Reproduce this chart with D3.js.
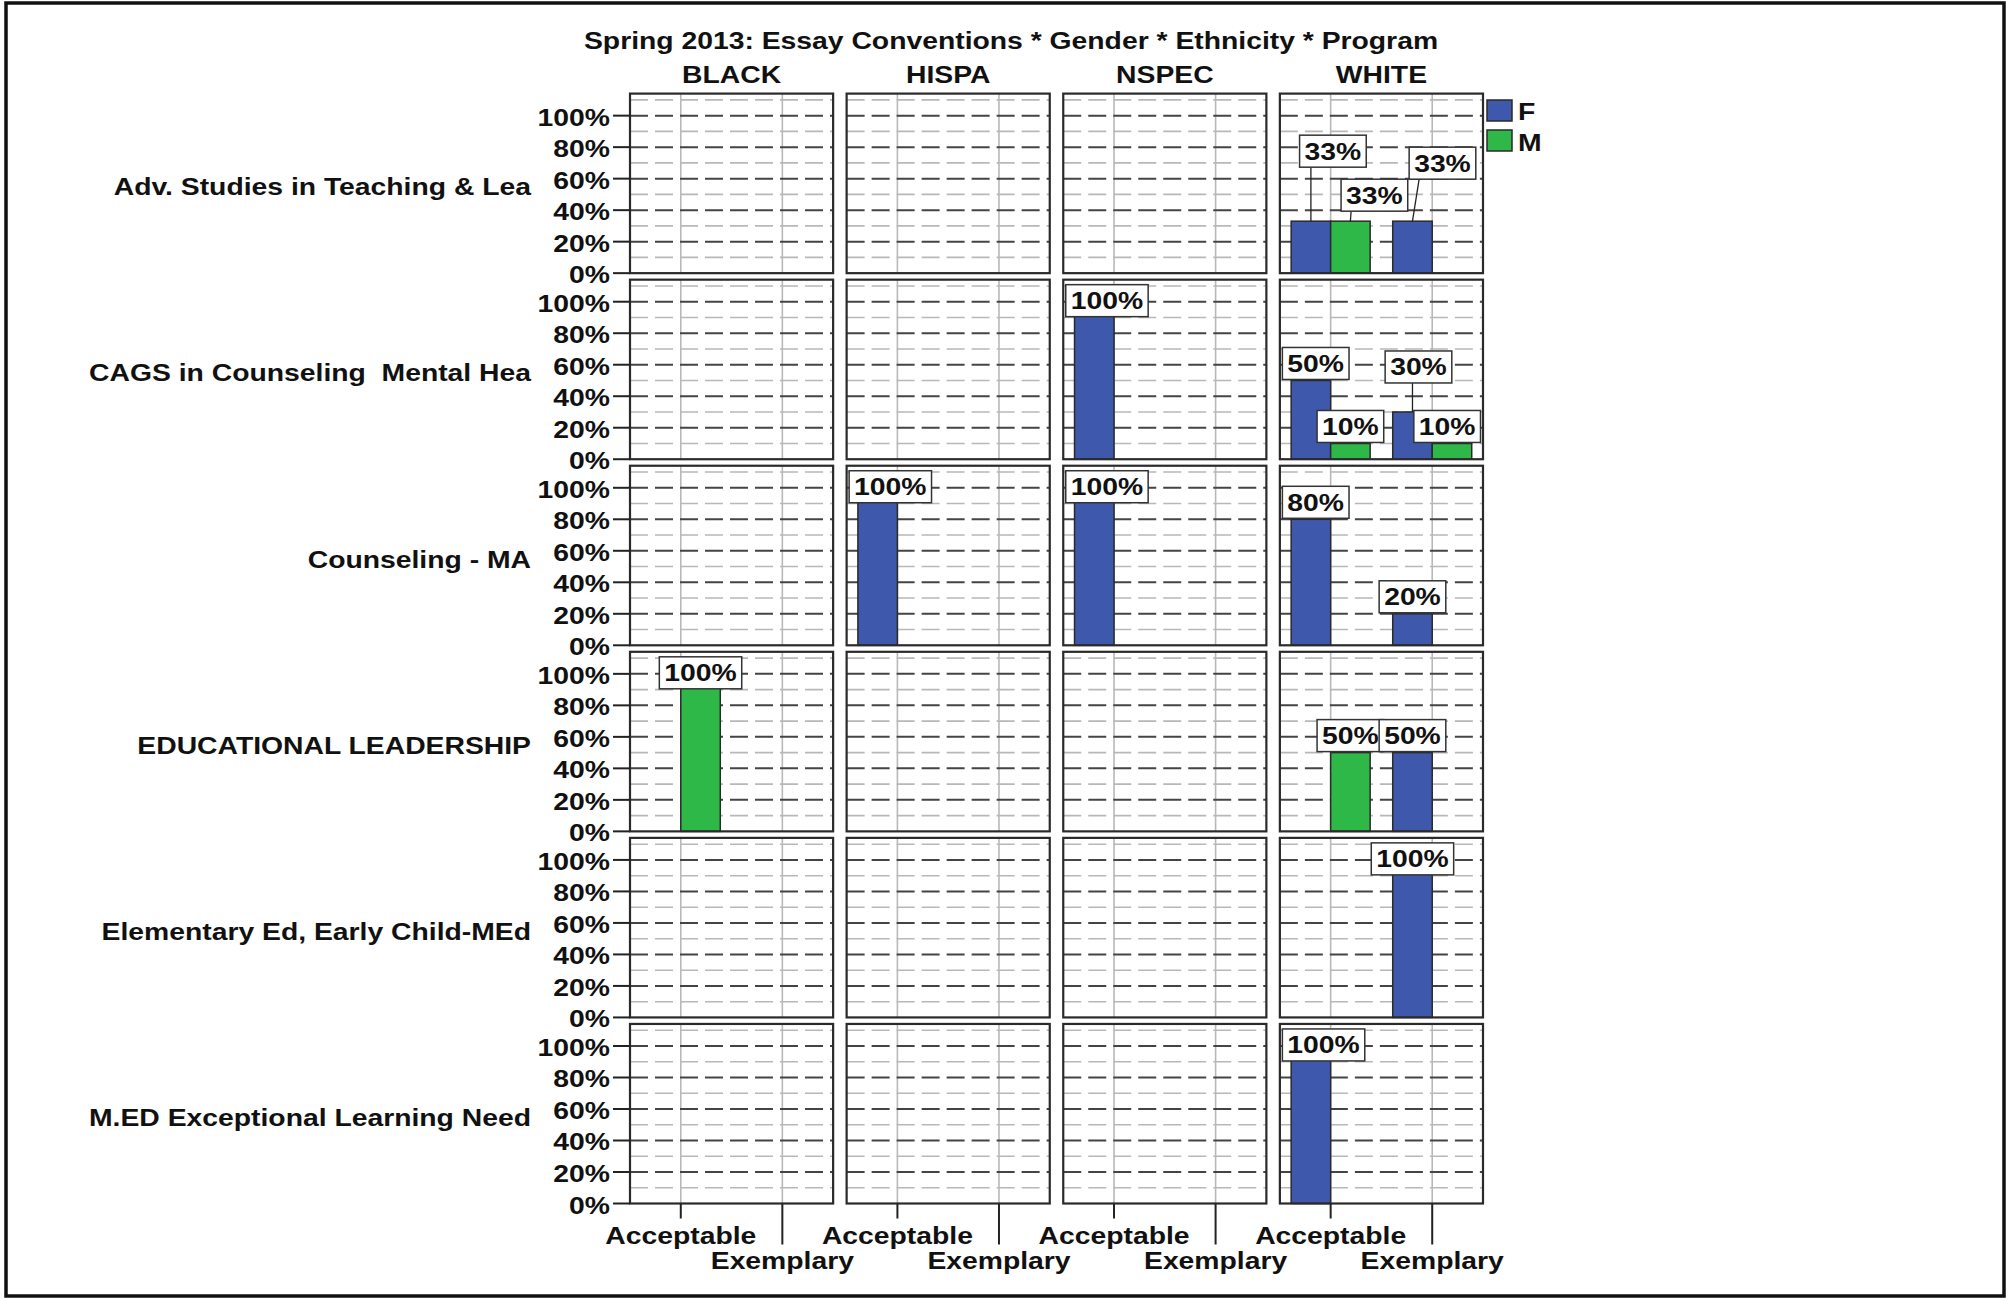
<!DOCTYPE html>
<html>
<head>
<meta charset="utf-8">
<script src="https://cdn.jsdelivr.net/npm/d3@7"></script>
<style>
  html, body { margin: 0; padding: 0; background: #fff; }
  svg { display: block; }
  text { font-family: "Liberation Sans", Arial, sans-serif; font-weight: bold; font-size: 24px; fill: #111; white-space: pre; }
</style>
</head>
<body>
<script>
// ---------------- DATA ----------------
const title = "Spring 2013: Essay Conventions * Gender * Ethnicity * Program";
const programs = [
  "Adv. Studies in Teaching & Lea",
  "CAGS in Counseling  Mental Hea",
  "Counseling - MA",
  "EDUCATIONAL LEADERSHIP",
  "Elementary Ed, Early Child-MEd",
  "M.ED Exceptional Learning Need"
];
const ethnicities = ["BLACK", "HISPA", "NSPEC", "WHITE"];
const ratings = ["Acceptable", "Exemplary"];
const genders = ["F", "M"];
const yTicks = [0, 20, 40, 60, 80, 100];
const yTickLabels = ["0%", "20%", "40%", "60%", "80%", "100%"];

// percent values [program][ethnicity][rating]; null = no bar
const pctF = [
  [[null, null], [null, null], [null, null], [33, 33]],
  [[null, null], [null, null], [100, null], [50, 30]],
  [[null, null], [100, null], [100, null], [80, 20]],
  [[null, null], [null, null], [null, null], [null, 50]],
  [[null, null], [null, null], [null, null], [null, 100]],
  [[null, null], [null, null], [null, null], [100, null]]
];
const pctM = [
  [[null, null], [null, null], [null, null], [33, null]],
  [[null, null], [null, null], [null, null], [10, 10]],
  [[null, null], [null, null], [null, null], [null, null]],
  [[100, null], [null, null], [null, null], [50, null]],
  [[null, null], [null, null], [null, null], [null, null]],
  [[null, null], [null, null], [null, null], [null, null]]
];
const genderColors = ["#3E58AC", "#2EB848"];

// ---------------- LAYOUT ----------------
const W = 2011, H = 1298;
const SX = 1.18; // horizontal text stretch seen in the reference
const svg = d3.select("body").append("svg").attr("width", W).attr("height", H);

const colScale = d3.scaleBand().domain(ethnicities).range([630, 1483]).paddingInner(0.0623);
const rowScale = d3.scaleBand().domain(programs).range([93.6, 1203.5]).paddingInner(0.035);
const pw = colScale.bandwidth(), ph = rowScale.bandwidth();
const xr = d3.scaleBand().domain(ratings).range([0, pw]);
const xg = d3.scaleBand().domain(genders).range([-39.5, 39.5]);
const y = d3.scaleLinear().domain([0, 114]).range([ph, 0]);
const color = d3.scaleOrdinal().domain(genders).range(genderColors);

// label displacement (collision avoidance as in the reference), relative to default spot
const labelShift = {
  "0|WHITE|Acceptable|F": [22, -53],
  "0|WHITE|Acceptable|M": [24, -9],
  "0|WHITE|Exemplary|F": [30, -41],
  "1|WHITE|Exemplary|F": [6, -28]
};

function txt(g, x, yy, s, anchor) {
  return g.append("text")
    .attr("transform", `translate(${x},${yy}) scale(${SX},1)`)
    .attr("text-anchor", anchor || "start")
    .text(s);
}

// outer frame
svg.append("rect").attr("x", 6).attr("y", 3).attr("width", 1998).attr("height", 1293)
  .attr("fill", "none").attr("stroke", "#111").attr("stroke-width", 3.5);

// title and column headers
txt(svg, 1011, 49, title, "middle");
ethnicities.forEach(e => txt(svg, colScale(e) + pw / 2, 83, e, "middle"));

// row labels
programs.forEach(p => txt(svg, 531, rowScale(p) + ph / 2 + 12, p, "end"));

// records
const records = [];
programs.forEach((p, pi) => ethnicities.forEach((e, ei) => ratings.forEach((r, ri) => {
  [pctF, pctM].forEach((arr, gi) => {
    const v = arr[pi][ei][ri];
    if (v !== null) records.push({ pi, p, e, r, g: genders[gi], v });
  });
})));

// panels
programs.forEach((p, pi) => {
  ethnicities.forEach((e, ei) => {
    const g = svg.append("g").attr("transform", `translate(${colScale(e)},${rowScale(p)})`);
    // minor grid
    d3.range(10, 114, 20).forEach(t => {
      g.append("line").attr("x1", 0).attr("x2", pw).attr("y1", y(t)).attr("y2", y(t))
        .attr("stroke", "#b8b8b8").attr("stroke-width", 1.6).attr("stroke-dasharray", "18,7");
    });
    // vertical category grid
    ratings.forEach(r => {
      const cx = xr(r) + xr.bandwidth() / 2;
      g.append("line").attr("x1", cx).attr("x2", cx).attr("y1", 0).attr("y2", ph)
        .attr("stroke", "#b8b8b8").attr("stroke-width", 1.6);
    });
    // major grid
    yTicks.forEach(t => {
      if (t === 0) return;
      g.append("line").attr("x1", 0).attr("x2", pw).attr("y1", y(t)).attr("y2", y(t))
        .attr("stroke", "#444").attr("stroke-width", 2).attr("stroke-dasharray", "18,7");
    });

    const recs = records.filter(d => d.pi === pi && d.e === e);
    // bars
    g.selectAll("rect.bar").data(recs).join("rect").attr("class", "bar")
      .attr("x", d => xr(d.r) + xr.bandwidth() / 2 + xg(d.g))
      .attr("width", xg.bandwidth())
      .attr("y", d => y(d.v))
      .attr("height", d => ph - y(d.v))
      .attr("fill", d => color(d.g))
      .attr("stroke", "#2a2a2a").attr("stroke-width", 1.5);

    // panel frame
    g.append("rect").attr("x", 0).attr("y", 0).attr("width", pw).attr("height", ph)
      .attr("fill", "none").attr("stroke", "#2a2a2a").attr("stroke-width", 2.2);

    // labels
    recs.forEach(d => {
      const bc = xr(d.r) + xr.bandwidth() / 2 + xg(d.g) + xg.bandwidth() / 2;
      const bt = y(d.v);
      const key = `${pi}|${e}|${d.r}|${d.g}`;
      const sh = labelShift[key] || [0, 0];
      const lg = g.append("g");
      const t = txt(lg, 0, 0, d.v + "%", "start");
      const tw = t.node().getComputedTextLength() * SX;
      const bw = tw + 10, bh = 32;
      let bx = bc + sh[0] - bw / 2;
      let by = bt - 1 + sh[1] - bh;
      bx = Math.max(2.5, Math.min(pw - 2.5 - bw, bx));
      by = Math.max(5, by);
      if (sh[1] !== 0) {
        const lx = Math.max(bx + 10, Math.min(bx + bw - 10, bc));
        lg.insert("line", "text").attr("x1", bc).attr("y1", bt).attr("x2", lx).attr("y2", by + bh)
          .attr("stroke", "#222").attr("stroke-width", 1.3);
      }
      lg.insert("rect", "text").attr("x", bx).attr("y", by).attr("width", bw).attr("height", bh)
        .attr("fill", "#fff").attr("stroke", "#333").attr("stroke-width", 1.5);
      t.attr("transform", `translate(${bx + 5},${by + 24.5}) scale(${SX},1)`);
    });

    // y axis on first column
    if (ei === 0) {
      yTicks.forEach((t, ti) => {
        g.append("line").attr("x1", -17).attr("x2", 0).attr("y1", y(t)).attr("y2", y(t))
          .attr("stroke", "#222").attr("stroke-width", 2);
        txt(g, -20, y(t) + 10, yTickLabels[ti], "end");
      });
    }
    // x axis on bottom row
    if (pi === programs.length - 1) {
      ratings.forEach((r, ri) => {
        const cx = xr(r) + xr.bandwidth() / 2;
        g.append("line").attr("x1", cx).attr("x2", cx).attr("y1", ph).attr("y2", ph + (ri === 0 ? 15 : 41))
          .attr("stroke", "#222").attr("stroke-width", 2);
        txt(g, cx, ph + (ri === 0 ? 40.5 : 65), r, "middle");
      });
    }
  });
});

// legend
genders.forEach((gname, i) => {
  svg.append("rect").attr("x", 1487).attr("y", 100 + i * 30).attr("width", 25).attr("height", 21)
    .attr("fill", color(gname)).attr("stroke", "#2a2a2a").attr("stroke-width", 1.5);
  txt(svg, 1518, 120 + i * 31, gname, "start");
});
</script>
</body>
</html>
